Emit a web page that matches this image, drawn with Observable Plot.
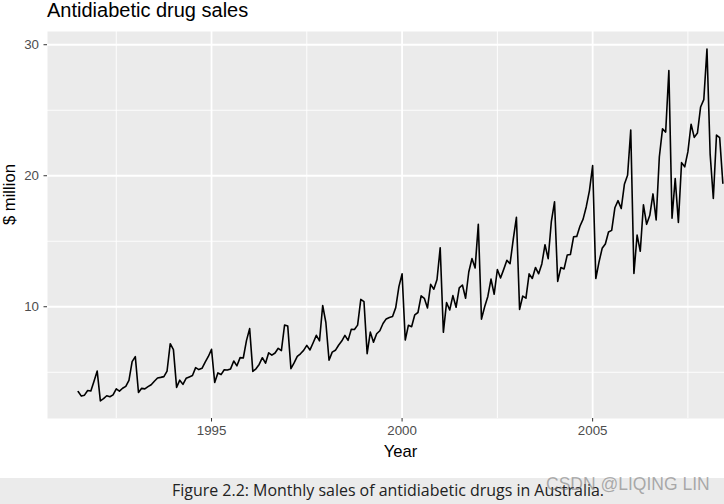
<!DOCTYPE html>
<html>
<head>
<meta charset="utf-8">
<script src="https://cdn.jsdelivr.net/npm/d3@7"></script>
<script src="https://cdn.jsdelivr.net/npm/@observablehq/plot@0.6"></script>
<style>
  html, body { margin: 0; padding: 0; background: #fff; }
  #wrap { position: relative; width: 724px; height: 504px; overflow: hidden; font-family: "Liberation Sans", Arial, sans-serif; }
  #title { position: absolute; left: 47px; top: -1px; font-size: 20px; color: #000; white-space: nowrap; }
  #chart { position: absolute; left: 0; top: 0; }
  #band { position: absolute; left: 0; top: 478px; width: 724px; height: 26px; background: #EBEBEB; }
  #caption { position: absolute; left: 172px; top: 480px; font-family: "Open Sans", "Noto Sans", sans-serif; font-size: 16px; color: #222; white-space: nowrap; transform-origin: 0 0; line-height: 20px; }
  #mark { position: absolute; left: 546px; top: 474px; font-family: "Liberation Sans", Arial, sans-serif; font-size: 17.5px; color: rgba(110,110,110,0.55); white-space: nowrap; line-height: 20px; }
</style>
</head>
<body>
<div id="wrap">
  <div id="band"></div>
  <div id="chart"></div>
  <div id="title">Antidiabetic drug sales</div>
  <div id="caption">Figure 2.2: Monthly sales of antidiabetic drugs in Australia.</div>
  <div id="mark">CSDN @LIQING LIN</div>
</div>
<script>
// Monthly antidiabetic drug sales in Australia ($ million), starting July 1991
const startYear = 1991;
const startMonth = 7;
const sales = [
  3.526591, 3.180891, 3.252221, 3.611003, 3.565869, 4.306371,
  5.088335, 2.814520, 2.985811, 3.204780, 3.127578, 3.270523, 3.737851, 3.558776, 3.777202, 3.924490, 4.386531, 5.810549,
  6.192068, 3.450857, 3.772307, 3.734303, 3.905399, 4.049687, 4.315566, 4.562185, 4.608662, 4.667851, 5.093841, 7.179962,
  6.731473, 3.841278, 4.394076, 4.075341, 4.540645, 4.645615, 4.752607, 5.350605, 5.204455, 5.301651, 5.773742, 6.204593,
  6.749484, 4.216067, 4.949349, 4.823045, 5.194754, 5.170787, 5.256742, 5.855277, 5.490729, 6.115293, 6.088473, 7.416598,
  8.329452, 5.069796, 5.262557, 5.597126, 6.110296, 5.689161, 6.486849, 6.300569, 6.467476, 6.828629, 6.649805, 8.606520,
  8.524471, 5.277918, 5.714303, 6.214529, 6.411929, 6.667716, 7.050831, 6.704919, 7.250988, 7.819733, 7.398101, 10.096233,
  8.798513, 5.918261, 6.534493, 6.675736, 7.064201, 7.383381, 7.813496, 7.431892, 8.275117, 8.260441, 8.596156, 10.558939,
  10.391416, 6.421535, 8.062619, 7.297739, 7.936916, 8.165323, 8.717420, 9.070964, 9.177113, 9.251887, 9.933136, 11.532974,
  12.511462, 7.457199, 8.591191, 8.474000, 9.386803, 9.560399, 10.834295, 10.643751, 9.908162, 11.710041, 11.340151, 12.079132,
  14.497581, 8.049275, 10.312891, 9.753358, 10.850382, 9.961719, 11.443601, 11.659239, 10.647060, 12.652134, 13.674466, 12.965735,
  16.300269, 9.053485, 10.002449, 10.788750, 12.106705, 10.954101, 12.844566, 12.196500, 12.854748, 13.542004, 13.287640, 15.134918,
  16.828350, 9.800215, 10.816994, 10.654223, 12.512323, 12.161210, 12.998046, 12.517276, 13.268658, 14.733622, 13.669382, 16.503966,
  18.003768, 11.938030, 12.997900, 12.882645, 13.943447, 13.989472, 15.339097, 15.370764, 16.142005, 16.685754, 17.636728, 18.869325,
  20.778723, 12.154552, 13.402392, 14.459239, 14.795102, 15.705248, 15.829550, 17.554701, 18.100864, 17.496668, 19.347265, 20.031291,
  23.486694, 12.536987, 15.467018, 14.233539, 17.783058, 16.291602, 16.980282, 18.612189, 16.623343, 21.430241, 23.575517, 23.334206,
  28.038383, 16.763869, 19.792754, 16.427305, 21.000742, 20.681002, 21.834890, 23.930204, 22.930357, 23.263340, 25.250030, 25.806090,
  29.665356, 21.654285, 18.264945, 23.107677, 22.912510, 19.431740
];
const xMajor = [1995, 2000, 2005];
const xMinor = [1992.5, 1997.5, 2002.5, 2007.5];
const yMajor = [10, 20, 30];
const yMinor = [5, 15, 25];
const xLabel = "Year";
const yLabel = "$ million";

const data = sales.map((v, i) => ({ t: startYear + (startMonth - 1 + i) / 12, v }));

const chart = Plot.plot({
  width: 724,
  height: 478,
  marginLeft: 47,
  marginRight: 0,
  marginTop: 31,
  marginBottom: 60,
  style: { fontFamily: "'Liberation Sans', Arial, sans-serif", background: "transparent", overflow: "visible" },
  x: { domain: [1990.696, 2008.46] },
  y: { domain: [1.47, 31.01] },
  marks: [
    Plot.frame({ fill: "#EBEBEB", stroke: "none" }),
    Plot.ruleX(xMinor, { stroke: "white", strokeWidth: 0.9 }),
    Plot.ruleY(yMinor, { stroke: "white", strokeWidth: 0.9 }),
    Plot.ruleX(xMajor, { stroke: "white", strokeWidth: 1.8 }),
    Plot.ruleY(yMajor, { stroke: "white", strokeWidth: 1.8 }),
    Plot.lineY(data, { x: "t", y: "v", stroke: "black", strokeWidth: 1.6 }),
    Plot.axisX(xMajor, { tickSize: 3.5, tickPadding: 4, fontSize: 13.3, stroke: "#333333", fill: "#4D4D4D", tickFormat: d3.format("d"), label: null }),
    Plot.axisY(yMajor, { tickSize: 3.5, tickPadding: 5, fontSize: 13.3, stroke: "#333333", fill: "#4D4D4D", label: null }),
    Plot.text([xLabel], { frameAnchor: "bottom", dx: 14.5, dy: 33, fontSize: 16.6, fill: "black", lineAnchor: "middle" }),
    Plot.text([yLabel], { frameAnchor: "left", dx: -38, rotate: -90, fontSize: 16.6, fill: "black", lineAnchor: "middle" })
  ]
});
document.getElementById("chart").appendChild(chart);

// fit caption width to the reference (~432px)
const cap = document.getElementById("caption");
const w = cap.getBoundingClientRect().width;
cap.style.transform = `scaleX(${432 / w})`;
</script>
</body>
</html>
